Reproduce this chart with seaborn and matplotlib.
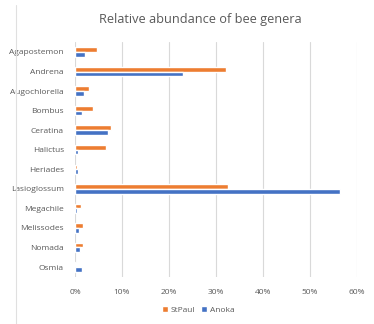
import matplotlib
matplotlib.use("Agg")
import matplotlib.pyplot as plt
import seaborn as sns
import pandas as pd
from matplotlib.ticker import PercentFormatter
from matplotlib.patches import Patch

genera = ["Agapostemon", "Andrena", "Augochlorella", "Bombus", "Ceratina", "Halictus",
          "Heriades", "Lasioglossum", "Megachile", "Melissodes", "Nomada", "Osmia"]
stpaul = [4.75, 32.1, 3.0, 3.8, 7.6, 6.5, 0.4, 32.5, 1.3, 1.7, 1.7, 0.15]
anoka = [2.1, 23.0, 1.85, 1.5, 7.0, 0.6, 0.6, 56.5, 0.4, 0.8, 1.1, 1.5]
sites = ["StPaul", "Anoka"]
colors = ["#ED7D31", "#4472C4"]
xticks = [0, 10, 20, 30, 40, 50, 60]

df = pd.DataFrame({
    "genus": genera * 2,
    "value": [v / 100 for v in stpaul] + [v / 100 for v in anoka],
    "site": ["StPaul"] * len(genera) + ["Anoka"] * len(genera),
})

sns.set_style("white")
plt.rcParams['font.family'] = ['Open Sans', 'DejaVu Sans']

fig = plt.figure(figsize=(3.74, 3.24), dpi=100)
ax = fig.add_axes([75 / 374, 1 - 276.8 / 324, (356.7 - 75) / 374, (276.8 - 42.2) / 324])

sns.barplot(data=df, y="genus", x="value", hue="site", hue_order=sites,
            palette=colors, orient="h", width=0.48, gap=0, ax=ax,
            saturation=1, legend=False, errorbar=None)

ax.set_xlim(0, 0.6)
ax.set_xticks([t / 100 for t in xticks])
ax.xaxis.set_major_formatter(PercentFormatter(1.0, decimals=0))
ax.grid(axis="x", color="#D9D9D9", linewidth=0.8)
ax.set_axisbelow(True)
for s in ax.spines.values():
    s.set_visible(False)
ax.set_xlabel("")
ax.set_ylabel("")
ax.tick_params(axis="both", length=0, labelsize=6.0, labelcolor="#595959")
ax.tick_params(axis="x", pad=9)
ax.tick_params(axis="y", pad=8)

fig.text(200 / 374, 1 - 19 / 324, "Relative abundance of bee genera",
         ha="center", va="center", fontsize=9.2, color="#595959")

handles = [Patch(facecolor=c, label=s) for s, c in zip(sites, colors)]
fig.legend(handles=handles, loc="center", bbox_to_anchor=(198 / 374, 1 - 310 / 324),
           ncol=2, frameon=False, fontsize=6.0, handlelength=0.7, handleheight=0.7,
           handletextpad=0.3, columnspacing=0.8, labelcolor="#595959")

fig.add_artist(plt.Line2D([15.5 / 374, 15.5 / 374], [0, 1 - 5 / 324],
                          color="#E0E0E0", linewidth=0.8, transform=fig.transFigure))

fig.savefig("out.png", dpi=100)
